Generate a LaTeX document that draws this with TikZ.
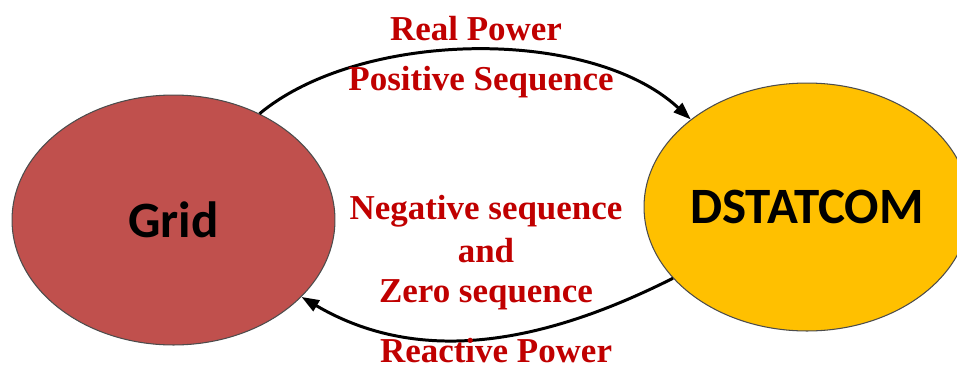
\documentclass[tikz,border=0pt]{standalone}
\usepackage{fontspec}
\setmainfont{Liberation Serif}
\newfontfamily\labelfont{Carlito}
\usetikzlibrary{arrows.meta, shapes.geometric}

\definecolor{gridred}{RGB}{192,80,77}
\definecolor{statgold}{RGB}{255,192,0}
\definecolor{flowred}{RGB}{192,0,0}

\begin{document}
\begin{tikzpicture}[
    x=0.02cm, y=-0.02cm,
    bubble/.style={ellipse, draw=black!70, line width=0.6pt, inner sep=0pt},
    bubble_label/.style={font=\labelfont\bfseries\fontsize{29}{34}\selectfont},
    arrow/.style={-{Triangle[length=10pt, width=7pt]}, line width=1.7pt},
    flow_label/.style={font=\bfseries\fontsize{19.9}{23.6}\selectfont, text=flowred, anchor=base, inner sep=0pt}
]
    % Frame
    \useasboundingbox (0,0) rectangle (957,369);

    % Nodes
    \node[bubble, fill=gridred, minimum width=6.46cm, minimum height=5cm] (grid) at (173.5,220) {};
    \node[bubble, fill=statgold, minimum width=6.52cm, minimum height=4.96cm] (dstat) at (807,207) {};
    \node[bubble_label] at (grid) {Grid};
    \node[bubble_label] at (dstat) {DSTATCOM};

    % Power flows
    \draw[arrow] (grid.51) .. controls (360,30) and (590,26) .. (dstat.143);
    \draw[arrow] (dstat.208) .. controls (560,335) and (429,372) .. (grid.329);

    % Labels
    \node[flow_label] (real) at (476,40) {Real Power};
    \node[flow_label] (pos) at (481,90) {Positive Sequence};
    \node[flow_label] (neg) at (486,219) {Negative sequence};
    \node[flow_label] (andtxt) at (486,262) {and};
    \node[flow_label] (zero) at (486,302) {Zero sequence};
    \node[flow_label] (react) at (496,362) {Reactive Power};

\end{tikzpicture}
\end{document}
